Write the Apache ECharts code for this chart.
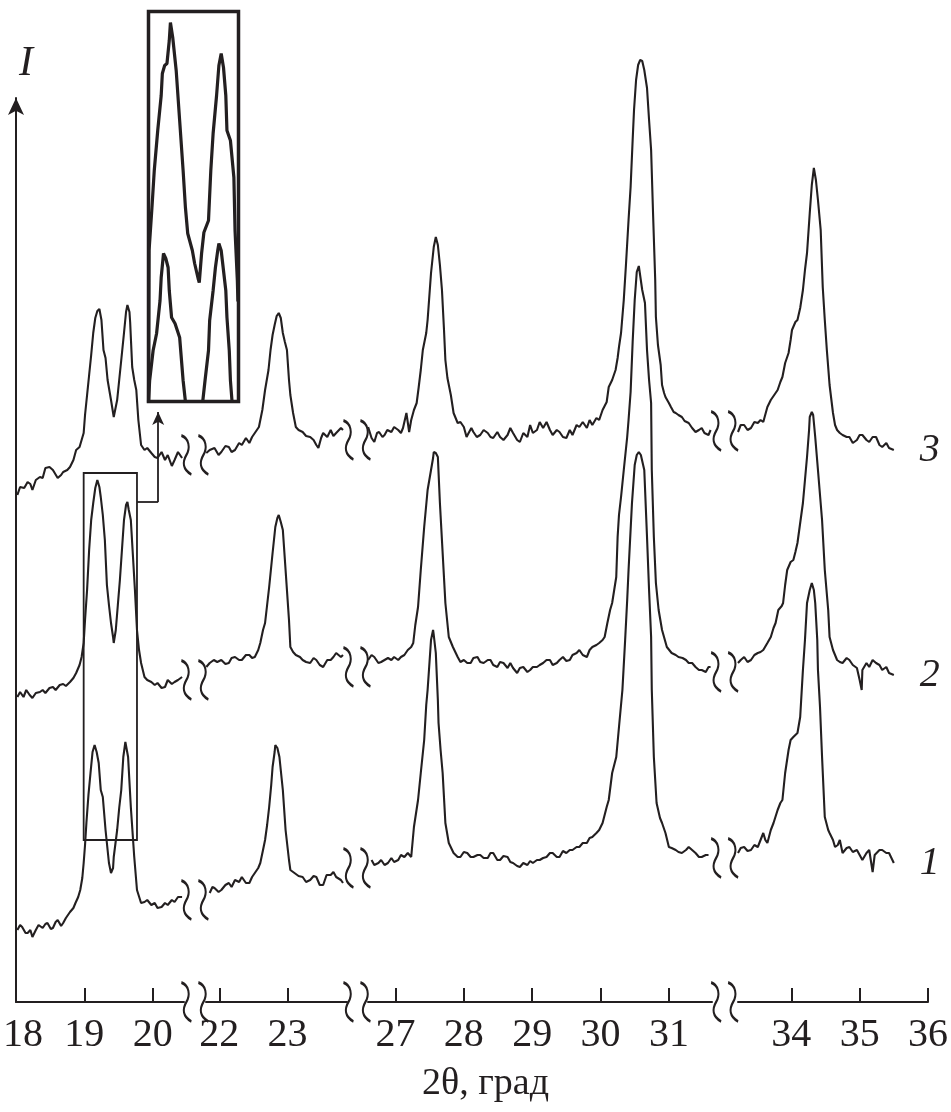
<!DOCTYPE html>
<html><head><meta charset="utf-8">
<script src="https://cdn.jsdelivr.net/npm/echarts@6/dist/echarts.min.js"></script>
<style>html,body{margin:0;padding:0;background:#fff}#c{width:951px;height:1112px}</style>
</head><body><div id="c"></div>
<script>
// ---- data ----
const xTickLabels = [18,19,20,22,23,27,28,29,30,31,34,35,36];
const axisBreaks = [[20.46,21.80,0.314],[23.86,26.59,0.308],[31.63,33.21,0.371]]; // start, end, gap (2θ units)
const curveLabels = ['1','2','3'];

const trace3 = [
[18.02,507],[18.06,515],[18.12,514],[18.17,520],[18.21,518],[18.24,512],[18.29,522],[18.35,525],[18.39,524],[18.43,534],[18.49,535],[18.54,532],[18.61,524],[18.66,527],[18.69,530],[18.75,532],[18.79,535],[18.84,542],[18.88,552],[18.93,555],[18.96,562],[18.99,569],[19.01,587],[19.04,607],[19.07,627],[19.10,647],[19.13,669],[19.16,684],[19.19,691],[19.22,693],[19.25,682],[19.28,652],[19.31,644],[19.34,622],[19.39,602],[19.43,585],[19.48,602],[19.51,622],[19.54,642],[19.58,669],[19.61,690],[19.63,697],[19.66,690],[19.67,680],[19.70,635],[19.73,622],[19.76,612],[19.79,582],[19.83,557],[19.88,552],[19.92,554],[19.98,549],[20.03,545],[20.07,544],[20.13,550],[20.18,542],[20.22,547],[20.28,536],[20.32,542],[20.37,550],[20.43,544],
[21.1,null],
[21.81,549],[21.86,552],[21.93,554],[21.99,547],[22.03,550],[22.09,556],[22.14,555],[22.18,550],[22.23,552],[22.29,559],[22.33,557],[22.39,564],[22.44,559],[22.48,565],[22.52,569],[22.58,575],[22.63,592],[22.67,612],[22.72,632],[22.75,652],[22.78,667],[22.81,677],[22.84,686],[22.87,689],[22.90,684],[22.93,669],[22.96,660],[22.99,652],[23.02,622],[23.04,607],[23.08,589],[23.12,575],[23.16,572],[23.22,570],[23.27,566],[23.33,565],[23.38,562],[23.42,557],[23.45,554],[23.49,564],[23.52,569],[23.58,565],[23.63,572],[23.67,566],[23.71,569],[23.78,574],[23.81,572],
[25.2,null],
[26.60,575],[26.65,564],[26.69,560],[26.73,569],[26.76,570],[26.81,565],[26.84,567],[26.88,572],[26.94,570],[26.98,575],[27.04,572],[27.08,569],[27.11,574],[27.16,589],[27.20,570],[27.23,582],[27.27,592],[27.31,599],[27.34,615],[27.37,632],[27.40,652],[27.45,669],[27.47,682],[27.52,729],[27.56,755],[27.59,765],[27.62,757],[27.65,737],[27.68,712],[27.71,672],[27.73,642],[27.76,624],[27.81,607],[27.85,589],[27.91,579],[27.95,580],[28.00,575],[28.04,565],[28.07,569],[28.11,574],[28.14,570],[28.19,565],[28.24,567],[28.29,572],[28.35,569],[28.39,565],[28.43,564],[28.49,570],[28.53,565],[28.58,562],[28.64,567],[28.68,574],[28.72,569],[28.78,562],[28.82,560],[28.87,569],[28.93,565],[28.97,577],[29.01,569],[29.07,572],[29.11,580],[29.16,574],[29.21,580],[29.26,572],[29.30,567],[29.36,572],[29.40,570],[29.45,565],[29.50,564],[29.55,572],[29.59,567],[29.65,577],[29.69,575],[29.74,580],[29.80,574],[29.84,582],[29.88,577],[29.94,584],[29.98,582],[30.03,592],[30.09,600],[30.12,615],[30.17,622],[30.22,632],[30.25,644],[30.27,655],[30.30,669],[30.34,702],[30.37,735],[30.41,782],[30.44,815],[30.47,862],[30.49,892],[30.52,922],[30.55,937],[30.58,942],[30.61,941],[30.64,932],[30.68,914],[30.71,882],[30.74,852],[30.77,785],[30.80,722],[30.81,685],[30.84,657],[30.88,637],[30.90,617],[30.93,609],[30.95,605],[31.00,599],[31.03,595],[31.07,590],[31.10,589],[31.14,587],[31.19,585],[31.23,581],[31.29,579],[31.34,574],[31.39,570],[31.44,572],[31.48,574],[31.52,569],[31.58,567],[31.61,572],
[32.4,null],
[33.22,570],[33.26,577],[33.31,577],[33.36,572],[33.41,574],[33.46,580],[33.51,579],[33.55,582],[33.59,580],[33.65,595],[33.70,602],[33.73,605],[33.77,609],[33.80,612],[33.84,620],[33.87,625],[33.91,639],[33.96,649],[33.99,662],[34.01,672],[34.06,680],[34.09,682],[34.13,694],[34.17,712],[34.20,732],[34.23,749],[34.27,789],[34.30,817],[34.33,834],[34.36,822],[34.39,802],[34.43,772],[34.46,715],[34.49,682],[34.52,652],[34.56,617],[34.61,589],[34.64,577],[34.67,572],[34.71,569],[34.75,567],[34.81,565],[34.85,565],[34.90,559],[34.96,562],[35.00,567],[35.04,567],[35.10,562],[35.14,560],[35.19,565],[35.24,565],[35.29,557],[35.33,555],[35.39,559],[35.43,554],[35.50,552]
];

const trace2 = [
[18.02,305],[18.06,310],[18.11,305],[18.15,312],[18.20,307],[18.24,304],[18.29,309],[18.35,310],[18.39,312],[18.43,309],[18.49,314],[18.54,315],[18.58,312],[18.64,317],[18.69,318],[18.73,316],[18.79,320],[18.84,324],[18.88,329],[18.93,337],[18.96,345],[18.99,359],[19.01,382],[19.04,412],[19.07,452],[19.10,482],[19.13,499],[19.16,514],[19.19,522],[19.22,515],[19.24,505],[19.27,487],[19.30,462],[19.33,417],[19.36,397],[19.39,379],[19.42,365],[19.43,359],[19.46,372],[19.49,397],[19.52,422],[19.55,452],[19.58,482],[19.61,497],[19.63,500],[19.65,492],[19.68,482],[19.71,447],[19.74,412],[19.77,372],[19.80,352],[19.83,339],[19.88,325],[19.92,322],[19.98,320],[20.03,317],[20.07,319],[20.13,314],[20.18,315],[20.22,322],[20.28,318],[20.32,320],[20.37,322],[20.43,325],
[21.1,null],
[21.81,335],[21.86,339],[21.92,342],[21.97,340],[22.03,342],[22.09,338],[22.14,339],[22.18,344],[22.23,345],[22.29,342],[22.33,342],[22.39,347],[22.44,347],[22.48,344],[22.52,345],[22.57,352],[22.60,359],[22.64,372],[22.67,379],[22.70,397],[22.73,415],[22.78,449],[22.82,475],[22.85,484],[22.87,487],[22.90,480],[22.93,472],[22.97,432],[23.02,382],[23.04,355],[23.08,350],[23.12,347],[23.18,345],[23.22,342],[23.27,340],[23.33,339],[23.38,344],[23.42,342],[23.47,337],[23.52,335],[23.58,342],[23.63,342],[23.67,345],[23.71,349],[23.78,345],[23.81,347],
[25.2,null],
[26.60,342],[26.65,347],[26.69,345],[26.75,339],[26.79,340],[26.84,342],[26.89,344],[26.94,342],[26.98,345],[27.04,342],[27.08,345],[27.13,347],[27.18,352],[27.23,355],[27.26,359],[27.29,377],[27.33,395],[27.37,432],[27.42,475],[27.47,512],[27.52,532],[27.55,544],[27.56,550],[27.59,549],[27.62,545],[27.65,499],[27.69,449],[27.73,399],[27.78,365],[27.84,355],[27.91,345],[27.95,340],[28.00,342],[28.05,339],[28.10,339],[28.14,344],[28.20,345],[28.24,340],[28.29,339],[28.35,342],[28.39,342],[28.43,337],[28.49,335],[28.53,340],[28.58,339],[28.64,334],[28.68,339],[28.72,334],[28.78,329],[28.82,334],[28.87,335],[28.93,330],[28.97,332],[29.01,335],[29.07,335],[29.11,337],[29.16,339],[29.21,342],[29.26,342],[29.30,337],[29.36,339],[29.40,342],[29.45,345],[29.50,341],[29.55,342],[29.59,347],[29.65,349],[29.69,352],[29.74,347],[29.80,345],[29.84,352],[29.88,355],[29.94,357],[29.98,359],[30.03,362],[30.06,365],[30.10,379],[30.14,392],[30.17,399],[30.20,412],[30.23,425],[30.25,465],[30.27,487],[30.30,505],[30.34,532],[30.39,565],[30.41,582],[30.44,610],[30.47,660],[30.50,702],[30.53,730],[30.56,736],[30.58,736],[30.61,712],[30.65,699],[30.68,652],[30.71,622],[30.74,599],[30.75,532],[30.78,465],[30.81,419],[30.85,392],[30.90,372],[30.97,355],[31.04,349],[31.10,347],[31.14,345],[31.20,344],[31.25,342],[31.29,339],[31.34,339],[31.39,335],[31.44,332],[31.48,332],[31.54,330],[31.58,335],[31.61,335],
[32.4,null],
[33.22,339],[33.26,342],[33.31,345],[33.36,340],[33.41,342],[33.46,347],[33.51,349],[33.55,350],[33.59,352],[33.65,359],[33.70,365],[33.74,374],[33.77,379],[33.81,392],[33.86,396],[33.88,399],[33.91,417],[33.94,432],[33.99,440],[34.03,442],[34.06,450],[34.09,459],[34.13,479],[34.17,499],[34.20,522],[34.23,545],[34.26,572],[34.27,585],[34.30,590],[34.32,587],[34.35,565],[34.39,532],[34.45,482],[34.49,432],[34.54,392],[34.56,365],[34.61,352],[34.67,342],[34.71,340],[34.75,339],[34.81,344],[34.85,342],[34.90,337],[34.96,334],[35.00,322],[35.03,312],[35.04,332],[35.10,339],[35.14,335],[35.19,342],[35.24,339],[35.29,337],[35.33,332],[35.39,335],[35.43,329],[35.50,327]
];

const trace1 = [
[18.02,72],[18.06,77],[18.09,75],[18.14,69],[18.17,69],[18.21,72],[18.24,65],[18.29,72],[18.33,77],[18.39,74],[18.43,78],[18.46,79],[18.51,73],[18.54,74],[18.58,80],[18.61,82],[18.66,76],[18.69,79],[18.73,84],[18.79,90],[18.84,94],[18.87,99],[18.91,105],[18.94,112],[18.97,124],[18.99,139],[19.01,157],[19.03,179],[19.06,207],[19.09,229],[19.12,250],[19.15,257],[19.18,250],[19.21,239],[19.24,212],[19.27,205],[19.31,172],[19.36,139],[19.39,129],[19.42,134],[19.43,145],[19.48,172],[19.51,194],[19.54,212],[19.57,245],[19.60,260],[19.61,262],[19.64,245],[19.68,195],[19.73,145],[19.77,112],[19.83,99],[19.88,100],[19.92,102],[19.98,97],[20.03,99],[20.07,94],[20.13,95],[20.18,99],[20.22,97],[20.28,102],[20.32,100],[20.37,105],[20.43,105],
[21.1,null],
[21.86,109],[21.90,115],[21.93,114],[21.99,110],[22.03,112],[22.09,117],[22.14,119],[22.18,115],[22.23,122],[22.29,120],[22.33,125],[22.39,119],[22.44,119],[22.48,125],[22.52,129],[22.57,134],[22.60,139],[22.64,152],[22.67,162],[22.70,177],[22.73,195],[22.76,217],[22.78,235],[22.81,250],[22.82,257],[22.85,254],[22.88,245],[22.93,212],[22.97,172],[23.02,142],[23.04,132],[23.10,129],[23.16,126],[23.22,125],[23.27,120],[23.33,122],[23.38,126],[23.42,125],[23.47,117],[23.52,117],[23.57,127],[23.63,127],[23.67,130],[23.71,125],[23.78,122],[23.81,119],
[25.2,null],
[26.65,142],[26.69,137],[26.75,139],[26.79,142],[26.84,137],[26.89,139],[26.94,144],[26.98,140],[27.04,142],[27.08,147],[27.13,145],[27.18,149],[27.23,145],[27.27,175],[27.33,202],[27.37,229],[27.42,262],[27.45,297],[27.47,312],[27.49,332],[27.52,362],[27.55,372],[27.56,367],[27.59,349],[27.62,302],[27.63,279],[27.66,252],[27.69,229],[27.73,179],[27.78,159],[27.85,149],[27.91,145],[27.95,145],[28.00,150],[28.05,149],[28.10,145],[28.14,145],[28.20,147],[28.24,147],[28.29,144],[28.35,144],[28.39,149],[28.43,149],[28.49,142],[28.53,142],[28.58,146],[28.64,145],[28.68,140],[28.72,139],[28.78,136],[28.82,135],[28.87,139],[28.93,137],[28.97,141],[29.01,139],[29.07,142],[29.11,142],[29.16,144],[29.21,145],[29.26,149],[29.30,149],[29.36,145],[29.40,145],[29.45,151],[29.50,149],[29.55,152],[29.59,152],[29.65,155],[29.69,155],[29.74,159],[29.80,159],[29.84,164],[29.88,165],[29.94,169],[29.98,172],[30.03,179],[30.09,195],[30.12,202],[30.17,229],[30.23,245],[30.27,275],[30.32,312],[30.36,362],[30.39,402],[30.41,432],[30.46,499],[30.50,537],[30.53,547],[30.56,550],[30.59,547],[30.64,532],[30.68,465],[30.71,412],[30.74,365],[30.75,312],[30.78,245],[30.82,199],[30.87,184],[30.90,179],[30.95,169],[31.00,155],[31.04,154],[31.10,152],[31.14,150],[31.19,149],[31.25,152],[31.29,155],[31.34,152],[31.39,149],[31.44,145],[31.48,145],[31.54,147],[31.58,147],
[32.4,null],
[33.22,149],[33.26,154],[33.31,155],[33.36,151],[33.41,152],[33.46,157],[33.51,155],[33.55,162],[33.59,169],[33.62,162],[33.65,159],[33.70,172],[33.74,179],[33.80,192],[33.84,199],[33.87,202],[33.91,229],[33.96,252],[33.99,262],[34.03,265],[34.09,269],[34.13,285],[34.17,332],[34.20,362],[34.23,399],[34.27,412],[34.30,419],[34.33,412],[34.35,399],[34.38,362],[34.39,332],[34.42,295],[34.45,245],[34.49,185],[34.54,172],[34.56,169],[34.61,162],[34.64,155],[34.68,157],[34.71,162],[34.75,149],[34.81,154],[34.85,155],[34.90,150],[34.96,152],[35.00,147],[35.04,142],[35.10,149],[35.14,152],[35.19,130],[35.22,147],[35.24,149],[35.29,152],[35.33,152],[35.39,149],[35.43,149],[35.50,139]
];

// inset (enlarged doublet near 19.2 / 19.6)
const insetUpper = [
[18.99,-10],[18.995,151],[19.02,194],[19.04,231],[19.07,271],[19.10,306],[19.11,328],[19.13,336],[19.15,338],[19.17,361],[19.18,379],[19.20,364],[19.23,331],[19.26,281],[19.29,231],[19.31,194],[19.33,168],[19.37,151],[19.39,138],[19.42,123],[19.43,119],[19.45,148],[19.47,169],[19.51,181],[19.53,231],[19.55,268],[19.58,306],[19.60,336],[19.62,348],[19.64,334],[19.66,306],[19.67,271],[19.70,261],[19.73,224],[19.74,171],[19.76,121],[19.765,100]
];
const insetLower = [
[18.99,0],[19.00,21],[19.03,51],[19.06,68],[19.09,101],[19.10,124],[19.12,148],[19.14,143],[19.16,134],[19.17,111],[19.19,84],[19.22,78],[19.24,71],[19.26,64],[19.29,21],[19.31,0],[19.38,-60],[19.46,0],[19.48,21],[19.51,51],[19.52,81],[19.55,111],[19.57,134],[19.59,151],[19.60,158],[19.62,151],[19.63,141],[19.66,111],[19.67,84],[19.69,51],[19.70,21],[19.72,-9]
];

// ---- chart ----
const INK = '#231f20';
const SERIF = '"Liberation Serif", "Times New Roman", serif';
const breakCenters = axisBreaks.map(b => (b[0] + b[1]) / 2);
const WAVE = 'path://M2,0 C10,3 11,13 7,20 C3,27 3,35 12,40 M19,0 C27,3 28,13 24,20 C20,27 20,35 29,40';
const waveLevels = { '1': [102,134,144], '2': [322,335,330], '3': [547,562,571] };

function waveMarks(levels, withAxis) {
  const d = [];
  if (withAxis) {
    breakCenters.forEach(x => d.push({ coord: [x, 0], symbol: 'rect', symbolSize: [16, 7],
      itemStyle: { color: '#fff', borderWidth: 0 } }));
    breakCenters.forEach(x => d.push({ coord: [x, 0], symbol: WAVE, symbolSize: [27, 39] }));
  }
  levels.forEach((y, i) => d.push({ coord: [breakCenters[i], y], symbol: WAVE, symbolSize: [27, 39] }));
  return {
    silent: true, animation: false,
    label: { show: false },
    itemStyle: { color: 'rgba(0,0,0,0)', borderColor: INK, borderWidth: 2.4 },
    data: d
  };
}

function traceSeries(data, name, extra) {
  return Object.assign({
    type: 'line', name: name, data: data, xAxisIndex: 0, yAxisIndex: 0,
    showSymbol: false, symbol: 'none', clip: false, connectNulls: false,
    lineStyle: { color: INK, width: 2.1 },
    endLabel: { show: true, formatter: name, distance: 26, color: INK,
      fontFamily: SERIF, fontStyle: 'italic', fontSize: 40 },
    markPoint: waveMarks(waveLevels[name], name === '1'),
    z: 3
  }, extra || {});
}

const chart = echarts.init(document.getElementById('c'), null, { renderer: 'canvas' });
chart.setOption({
  animation: false,
  backgroundColor: '#fff',
  grid: [
    { left: 14, right: 23, top: 98, bottom: 110, containLabel: false },
    { left: 148.5, top: 11.5, width: 90, height: 390, show: true,
      borderColor: INK, borderWidth: 3.5, backgroundColor: 'rgba(0,0,0,0)' }
  ],
  xAxis: [
    {
      type: 'value', gridIndex: 0, min: 18, max: 36, interval: 1,
      breaks: axisBreaks.map(b => ({ start: b[0], end: b[1], gap: b[2] })),
      breakArea: { show: false, itemStyle: { opacity: 0, color: 'rgba(0,0,0,0)', borderColor: 'rgba(0,0,0,0)', borderWidth: 0 } },
      axisLine: { show: true, onZero: false, lineStyle: { color: INK, width: 2 } },
      axisTick: { show: true, inside: true, length: 14, customValues: xTickLabels,
        lineStyle: { color: INK, width: 2 } },
      axisLabel: {
        show: true, customValues: xTickLabels, margin: 13, color: INK,
        fontFamily: SERIF, fontSize: 40, showMinLabel: true, showMaxLabel: true,
        formatter: function (v) {
          const r = Math.round(v * 100) / 100;
          if (xTickLabels.indexOf(r) < 0) return '';
          return r === 18 ? '{first|18}' : String(r);
        },
        rich: { first: { fontFamily: SERIF, fontSize: 40, color: INK, padding: [0, 0, 0, 14] } }
      },
      splitLine: { show: false },
      name: '2θ, град', nameLocation: 'middle', nameGap: 63,
      nameTextStyle: { fontFamily: SERIF, fontSize: 38, color: INK, padding: [0, 0, 0, 27] }
    },
    { type: 'value', gridIndex: 1, min: 18.99, max: 19.77, show: false }
  ],
  yAxis: [
    {
      type: 'value', gridIndex: 0, min: 0, max: 904,
      axisLine: { show: true, onZero: false, symbol: ['none', 'arrow'], symbolSize: [12, 17],
        lineStyle: { color: INK, width: 2 } },
      axisTick: { show: false }, axisLabel: { show: false }, splitLine: { show: false },
      name: 'I', nameLocation: 'end', nameGap: 13,
      nameTextStyle: { fontFamily: SERIF, fontStyle: 'italic', fontSize: 42, color: INK, padding: [0, 0, 0, 20] }
    },
    { type: 'value', gridIndex: 1, min: 0, max: 390, show: false }
  ],
  series: [
    traceSeries(trace3, '3'),
    traceSeries(trace2, '2'),
    traceSeries(trace1, '1', {
      markArea: {
        silent: true,
        itemStyle: { color: 'rgba(0,0,0,0)', borderColor: INK, borderWidth: 1.8 },
        label: { show: false },
        data: [[{ coord: [18.99, 162] }, { coord: [19.77, 529] }]]
      },
      markLine: {
        silent: true, animation: false,
        label: { show: false },
        lineStyle: { color: INK, width: 1.8, type: 'solid' },
        data: [
          [{ coord: [19.77, 500], symbol: 'none' }, { coord: [20.08, 500], symbol: 'none' }],
          [{ coord: [20.08, 500], symbol: 'none' }, { coord: [20.08, 590], symbol: 'arrow', symbolSize: [9, 13] }]
        ]
      }
    }),
    { type: 'line', xAxisIndex: 1, yAxisIndex: 1, data: insetUpper, symbol: 'none', showSymbol: false,
      lineStyle: { color: INK, width: 3.2 }, clip: true, z: 3 },
    { type: 'line', xAxisIndex: 1, yAxisIndex: 1, data: insetLower, symbol: 'none', showSymbol: false,
      lineStyle: { color: INK, width: 3.2 }, clip: true, z: 3 }
  ]
});
</script>
</body></html>
